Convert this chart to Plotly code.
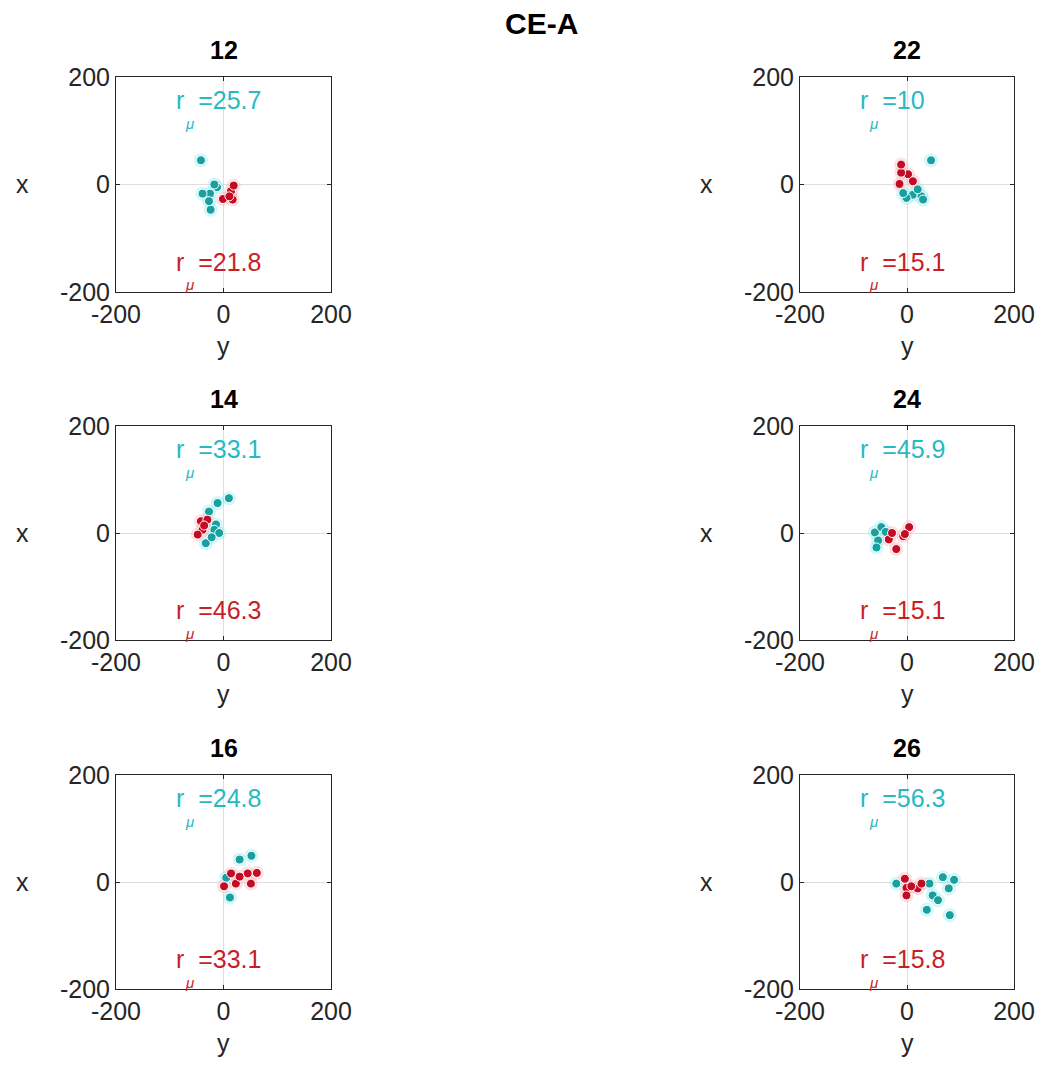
import plotly.graph_objects as go

# panel names in reading order (row by row: left, right)
panels = ["12", "22", "14", "24", "16", "26"]

# cyan group: horizontal "y" values and vertical "x" values
cyan_y = {
    "12": [-42, -25, -39, -12, -24, -27, -17],
    "22": [45, 11, -1, 27, 30, 20, -7],
    "14": [10, -11, -27, -14, -17, -8, -33, -22],
    "24": [-60, -48, -54, -57, -40],
    "16": [30, 52, 12, 5],
    "26": [-20, 67, 88, 78, 48, 37, 80, 42, 58],
}
cyan_x = {
    "12": [45, -17, -17, -5, -47, -31, 0],
    "22": [45, -19, -25, -22, -28, -9, -16],
    "14": [65, 56, 40, 16, 6, 0, -19, -8],
    "24": [1, 11, -14, -27, 2],
    "16": [42, 49, -29, 8],
    "26": [-3, 9, 4, -12, -25, -52, -62, -3, -34],
}
# red group
red_y = {
    "12": [-1, 14, 17, 19, 11],
    "22": [2, -14, -11, 11, -11],
    "14": [-42, -39, -48, -30, -36],
    "24": [-34, -20, -7, 4, -4, -28],
    "16": [1, 23, 51, 62, 45, 14, 30],
    "26": [-1, -4, -1, 20, 27, 8],
}
red_x = {
    "12": [-27, -12, -28, -2, -22],
    "22": [19, 1, 22, 6, 37],
    "14": [22, 6, -3, 25, 14],
    "24": [-12, -30, -6, 11, -2, 0],
    "16": [-8, -3, -3, 17, 16, 16, 10],
    "26": [-11, 6, -25, -12, -3, -8],
}
cyan_r = {"12": "25.7", "22": "10", "14": "33.1", "24": "45.9", "16": "24.8", "26": "56.3"}
red_r = {"12": "21.8", "22": "15.1", "14": "46.3", "24": "15.1", "16": "33.1", "26": "15.8"}

# page is offset by the 8px body margin, so lay out in page pixels minus 8
OFF = 8
W, H = 1043 - 2 * OFF, 1077 - 2 * OFF
col_px = [(116, 331), (800, 1014)]
row_px = [(77, 292), (426, 640), (775, 989)]

CYAN_DOT = "rgb(24,160,160)"
CYAN_TXT = "rgb(40,185,195)"
RED_DOT = "rgb(195,12,35)"
RED_TXT = "rgb(200,30,40)"
FONT = "Liberation Sans, Arial, Helvetica, sans-serif"
TICK_SIZE = 25
NB = "\u00a0"


def px_x(v):
    return (v - OFF) / W


def px_y(v):
    return 1 - (v - OFF) / H


fig = go.Figure()
annotations = []
for i, p in enumerate(panels):
    r, c = divmod(i, 2)
    n = i + 1
    xa = "xaxis" if n == 1 else f"xaxis{n}"
    ya = "yaxis" if n == 1 else f"yaxis{n}"
    xref = "x" if n == 1 else f"x{n}"
    yref = "y" if n == 1 else f"y{n}"
    x0, x1 = col_px[c]
    y0, y1 = row_px[r]
    dom_x = [px_x(x0), px_x(x1)]
    dom_y = [px_y(y1), px_y(y0)]
    common = dict(
        range=[-200, 200], tickvals=[-200, 0, 200], ticktext=["-200", "0", "200"],
        showline=True, mirror="ticks", linecolor="#262626", linewidth=1,
        ticks="inside", ticklen=4, tickcolor="#262626",
        showgrid=True, gridcolor="#dedede", gridwidth=1, zeroline=False,
        tickfont=dict(size=TICK_SIZE, color="#262626", family=FONT),
        fixedrange=True, automargin=False,
    )
    fig.update_layout(**{
        xa: dict(domain=dom_x, anchor=yref, **common),
        ya: dict(domain=dom_y, anchor=xref, **common),
    })
    # halos
    fig.add_trace(go.Scatter(x=cyan_y[p], y=cyan_x[p], mode="markers", xaxis=xref, yaxis=yref,
                             marker=dict(size=14, color="rgba(120,235,240,0.35)", line=dict(width=0)),
                             showlegend=False, hoverinfo="skip"))
    fig.add_trace(go.Scatter(x=red_y[p], y=red_x[p], mode="markers", xaxis=xref, yaxis=yref,
                             marker=dict(size=14, color="rgba(255,170,175,0.35)", line=dict(width=0)),
                             showlegend=False, hoverinfo="skip"))
    fig.add_trace(go.Scatter(x=cyan_y[p], y=cyan_x[p], mode="markers", xaxis=xref, yaxis=yref,
                             marker=dict(size=9, color=CYAN_DOT, line=dict(width=1, color="white")),
                             showlegend=False))
    fig.add_trace(go.Scatter(x=red_y[p], y=red_x[p], mode="markers", xaxis=xref, yaxis=yref,
                             marker=dict(size=9, color=RED_DOT, line=dict(width=1, color="white")),
                             showlegend=False))
    # r_mu labels (MATLAB-style: subscript drawn well below, left aligned)
    for val, ypos, col in ((cyan_r[p], 157, CYAN_TXT), (red_r[p], -144, RED_TXT)):
        annotations.append(dict(x=-92, y=ypos, xref=xref, yref=yref, showarrow=False,
                                xanchor="left", yanchor="middle",
                                text="r" + NB + NB + "=" + val,
                                font=dict(size=TICK_SIZE, color=col, family=FONT)))
        annotations.append(dict(x=-92, y=ypos, xref=xref, yref=yref, showarrow=False,
                                xanchor="left", yanchor="middle", xshift=9, yshift=-23,
                                text="<i>μ</i>",
                                font=dict(size=15, color=col, family=FONT)))
    # panel title
    annotations.append(dict(x=px_x((x0 + x1) / 2), y=px_y(y0 - 27), xref="paper", yref="paper",
                            xanchor="center", yanchor="middle", showarrow=False,
                            text=f"<b>{p}</b>", font=dict(size=25, color="black", family=FONT)))
    # axis labels
    annotations.append(dict(x=px_x(x0 - 94), y=px_y((y0 + y1) / 2), xref="paper", yref="paper",
                            xanchor="center", yanchor="middle", showarrow=False,
                            text="x", font=dict(size=TICK_SIZE, color="#262626", family=FONT)))
    annotations.append(dict(x=px_x((x0 + x1) / 2), y=px_y(y1 + 54), xref="paper", yref="paper",
                            xanchor="center", yanchor="middle", showarrow=False,
                            text="y", font=dict(size=TICK_SIZE, color="#262626", family=FONT)))

annotations.append(dict(x=px_x(541), y=px_y(23), xref="paper", yref="paper", xanchor="center",
                        yanchor="middle", showarrow=False, text="<b>CE-A</b>",
                        font=dict(size=30, color="black", family=FONT)))

fig.update_layout(width=W, height=H,
                  margin=dict(l=0, r=0, t=0, b=0, pad=0, autoexpand=False),
                  paper_bgcolor="white", plot_bgcolor="white",
                  annotations=annotations, showlegend=False,
                  font=dict(family=FONT))
fig.write_html("out.html")
